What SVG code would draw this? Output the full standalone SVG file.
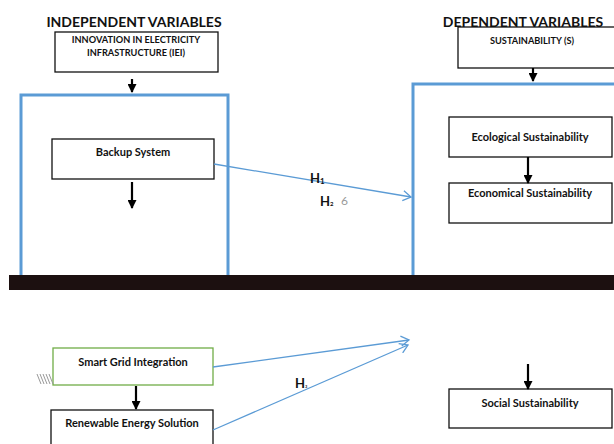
<svg xmlns="http://www.w3.org/2000/svg" width="614" height="444" viewBox="0 0 614 444">
<defs>
<style>
.t{font-family:Lato,"Liberation Sans",sans-serif;font-weight:700;fill:#111;text-anchor:middle}
.title{font-size:14px}
.cap{font-size:9.2px}
.lbl{font-size:11px}
.h{font-family:Lato,"Liberation Sans",sans-serif;font-weight:700;font-size:13px;fill:#111}
.box{fill:#fff;stroke:#111;stroke-width:1.3}
.cont{fill:none;stroke:#5B9BD5;stroke-width:3}
.dn{stroke:#000;stroke-width:2.2;fill:none;marker-end:url(#ah)}
.bl{stroke:#5B9BD5;stroke-width:1.3;fill:none;marker-end:url(#oa)}
</style>
<marker id="ah" markerUnits="userSpaceOnUse" markerWidth="9" markerHeight="9" refX="8" refY="4.5" orient="auto" viewBox="0 0 9 9">
<path d="M0,0 L9,4.5 L0,9 Z" fill="#000"/>
</marker>
<marker id="oa" markerUnits="userSpaceOnUse" markerWidth="12" markerHeight="12" refX="10" refY="6" orient="auto" viewBox="0 0 12 12">
<path d="M2,1 L10,6 L2,11" fill="none" stroke="#5B9BD5" stroke-width="1.3"/>
</marker>
</defs>
<rect width="614" height="444" fill="#fff"/>
<g id="containers">
<rect class="cont" x="21" y="95" width="207" height="190"/>
<rect class="cont" x="413" y="84" width="210" height="201"/>
</g>
<g id="bar"><rect x="9" y="275" width="605" height="15" fill="#1c1010"/></g>
<g id="titles">
<text class="t title" x="134" y="27">INDEPENDENT VARIABLES</text>
<text class="t title" x="523" y="27">DEPENDENT VARIABLES</text>
</g>
<g id="iei">
<rect class="box" x="55" y="32" width="163" height="40"/>
<text class="t cap" x="136" y="43">INNOVATION IN ELECTRICITY</text>
<text class="t cap" x="136" y="56">INFRASTRUCTURE (IEI)</text>
</g>
<g id="sustainability">
<rect class="box" x="458" y="27" width="160" height="41"/>
<text class="t cap" x="532" y="44">SUSTAINABILITY (S)</text>
</g>
<g id="backup">
<rect class="box" x="52" y="139" width="162" height="40"/>
<text class="t lbl" x="133" y="156">Backup System</text>
</g>
<g id="ecological">
<rect class="box" x="449" y="117" width="163" height="40"/>
<text class="t lbl" x="530" y="141">Ecological Sustainability</text>
</g>
<g id="economical">
<rect class="box" x="449" y="183" width="163" height="40"/>
<text class="t lbl" x="530" y="197">Economical Sustainability</text>
</g>
<g id="smartgrid">
<rect x="53" y="348" width="160" height="37" fill="#fff" stroke="#70AD47" stroke-width="1.3"/>
<text class="t lbl" x="133" y="366">Smart Grid Integration</text>
</g>
<g id="hatch" stroke="#999" stroke-width="1">
<line x1="37" y1="374" x2="41" y2="384"/>
<line x1="40" y1="374" x2="44" y2="384"/>
<line x1="43" y1="374" x2="47" y2="384"/>
<line x1="46" y1="374" x2="50" y2="384"/>
<line x1="49" y1="374" x2="53" y2="384"/>
</g>
<g id="renewable">
<rect class="box" x="51" y="410" width="162" height="45"/>
<text class="t lbl" x="132" y="427">Renewable Energy Solution</text>
</g>
<g id="social">
<rect class="box" x="449" y="389" width="163" height="39"/>
<text class="t lbl" x="530" y="407">Social Sustainability</text>
</g>
<g id="connectors">
<line class="dn" x1="132" y1="79" x2="132" y2="92"/>
<line class="dn" x1="533" y1="68" x2="533" y2="81"/>
<line class="dn" x1="132" y1="182" x2="132" y2="208"/>
<line class="dn" x1="528" y1="157" x2="528" y2="183"/>
<line class="dn" x1="136" y1="386" x2="136" y2="409"/>
<line class="dn" x1="528" y1="364" x2="528" y2="389"/>
<line class="bl" x1="214" y1="164" x2="411" y2="197"/>
<line class="bl" x1="213" y1="367" x2="409" y2="340"/>
<line class="bl" x1="213" y1="430" x2="408" y2="345"/>
</g>
<g id="labels">
<text class="h" x="310" y="183">H<tspan font-size="8" dy="1">1</tspan></text>
<text class="h" x="320" y="206">H<tspan font-size="6">2</tspan></text>
<text x="341" y="205" font-family="Lato,'Liberation Sans',sans-serif" font-size="12" fill="#999">6</text>
<text class="h" x="295" y="388">H<tspan font-size="4">3</tspan></text>
</g>
</svg>
